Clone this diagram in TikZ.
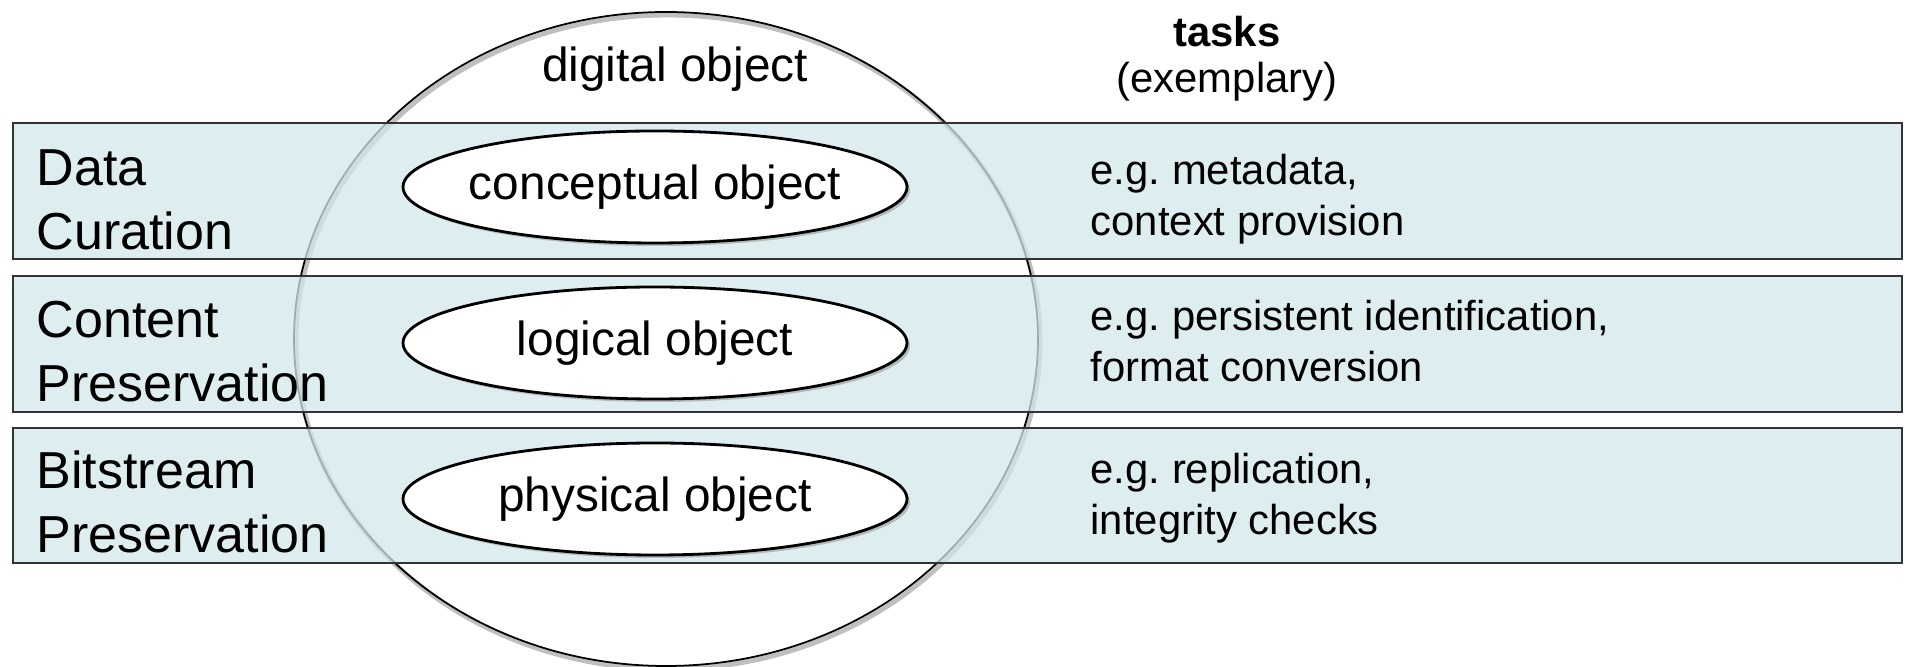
\documentclass[tikz,border=0pt]{standalone}
\usepackage{fontspec}
\setmainfont{Liberation Sans}
\usetikzlibrary{shapes.geometric,shadows}
\definecolor{bandblue}{RGB}{210,231,235}

\begin{document}
\begin{tikzpicture}[
  band/.style={draw=black!80, line width=0.6pt, fill=bandblue, fill opacity=0.75},
  layer/.style={draw, ellipse, line width=0.8pt, fill=white, minimum width=5.04cm, minimum height=1.12cm,
    inner xsep=-2mm, inner ysep=0pt,
    font=\fontsize{13.6}{16}\selectfont,
    drop shadow={shadow xshift=0.03cm, shadow yshift=-0.03cm, fill=black!40, opacity=0.6}},
  side/.style={anchor=base west, align=left, inner sep=0pt, font=\fontsize{14.8}{18.3}\selectfont},
  task/.style={anchor=base west, align=left, inner sep=0pt, font=\fontsize{11.9}{14.6}\selectfont}
]
\useasboundingbox (0,0) rectangle (19.05,6.67);

% digital object outline with shadow
\draw[black!25, line width=1.4pt] (6.68,3.25) ellipse [x radius=3.72cm, y radius=3.27cm];
\draw[line width=0.5pt] (6.66,3.28) ellipse [x radius=3.72cm, y radius=3.27cm];
\node[anchor=base, font=\fontsize{13.6}{16}\selectfont] (digital) at (6.75,5.85) {digital object};

% layers
\filldraw[band] (0.13,4.08) rectangle (19.02,5.44);
\filldraw[band] (0.13,2.55) rectangle (19.02,3.91);
\filldraw[band] (0.13,1.04) rectangle (19.02,2.39);

\node[layer] (conceptual) at (6.55,4.80) {conceptual object};
\node[layer] (logical) at (6.55,3.24) {logical object};
\node[layer] (physical) at (6.55,1.68) {physical object};

% labels (anchored at last line)
\node[side] (curation) at (0.36,4.17) {Data\\Curation};
\node[side] (content) at (0.36,2.65) {Content\\Preservation};
\node[side] (bitstream) at (0.36,1.14) {Bitstream\\Preservation};

% tasks
\node[anchor=base, font=\fontsize{11.9}{14.6}\selectfont\bfseries] (tasks) at (12.27,6.20) {tasks};
\node[anchor=base, font=\fontsize{11.9}{14.6}\selectfont] (exemplary) at (12.27,5.74) {(exemplary)};
\node[task] (curtask) at (10.90,4.31) {e.g.\ metadata,\\context provision};
\node[task] (contask) at (10.90,2.85) {e.g.\ persistent identification,\\format conversion};
\node[task] (bittask) at (10.90,1.32) {e.g.\ replication,\\integrity checks};

\end{tikzpicture}
\end{document}
